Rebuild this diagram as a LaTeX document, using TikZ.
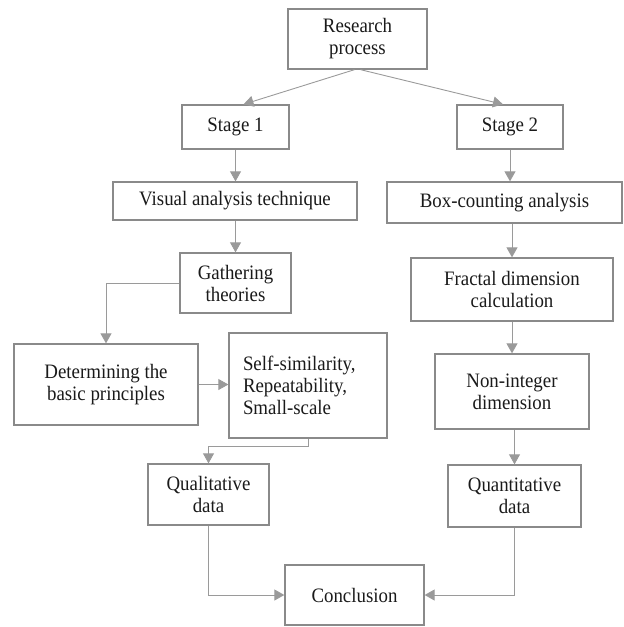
\documentclass[tikz,border=0pt]{standalone}
\usepackage{fontspec}
\setmainfont{Liberation Serif}[FakeStretch=0.92]
\usetikzlibrary{arrows.meta}
\definecolor{boxc}{HTML}{8A8A8A}
\definecolor{linec}{HTML}{9A9A9A}
\definecolor{txtc}{HTML}{1A1A1A}
\begin{document}
\begin{tikzpicture}[x=1pt,y=-1pt,
  box/.style={draw=boxc,line width=1.3pt,rectangle,inner sep=0pt,align=center,
    text=txtc,font=\fontsize{20.5}{22}\selectfont},
  conn/.style={draw=linec,line width=0.9pt,-{Triangle[length=10pt,width=11pt]}}]
\useasboundingbox (0,0) rectangle (624,627);
\node[box,minimum width=139pt,minimum height=60pt] (r) at (357.5,39) {Research\\process};
\node[box,minimum width=107pt,minimum height=44pt] (s1) at (235.5,127) {Stage 1};
\node[box,minimum width=106pt,minimum height=44pt] (s2) at (510,127) {Stage 2};
\node[box,minimum width=244pt,minimum height=38pt] (vis) at (235,201) {Visual analysis technique};
\node[box,minimum width=235pt,minimum height=41pt] (bc) at (504.5,202.5) {Box-counting analysis};
\node[box,minimum width=111pt,minimum height=60pt] (gath) at (235.5,283) {Gathering\\theories};
\node[box,minimum width=202pt,minimum height=63pt] (frac) at (512,289.5) {Fractal dimension\\calculation};
\node[box,minimum width=184pt,minimum height=81pt] (det) at (106,384.5) {Determining the\\basic principles};
\node[box,align=left,text width=130pt,inner xsep=14pt,minimum height=105pt] (self) at (308,385.5) {Self-similarity,\\Repeatability,\\Small-scale};
\node[box,minimum width=154pt,minimum height=75pt] (non) at (512,391.5) {Non-integer\\dimension};
\node[box,minimum width=121pt,minimum height=61pt] (qual) at (208.5,494.5) {Qualitative\\data};
\node[box,minimum width=133pt,minimum height=62pt] (quan) at (514.5,496) {Quantitative\\data};
\node[box,minimum width=139pt,minimum height=60pt] (conc) at (354.5,595) {Conclusion};
\draw[conn] ([xshift=-3pt]r.south) -- ([xshift=8pt]s1.north);
\draw[conn] ([xshift=3pt]r.south) -- ([xshift=-7pt]s2.north);
\draw[conn] (s1.south) -- (s1.south |- vis.north);
\draw[conn] (vis.south -| gath.north) -- (gath.north);
\draw[conn] (s2.south) -- (s2.south |- bc.north);
\draw[conn] (bc.south -| frac.north) -- (frac.north);
\draw[conn] (gath.west) -| (det.north);
\draw[conn] (det.east) -- (det.east -| self.west);
\draw[conn] (self.south) -- ++(0,8) -| (qual.north);
\draw[conn] (frac.south) -- (non.north);
\draw[conn] (non.south -| quan.north) -- (quan.north);
\draw[conn] (qual.south) |- (conc.west);
\draw[conn] (quan.south) |- (conc.east);
\end{tikzpicture}
\end{document}
